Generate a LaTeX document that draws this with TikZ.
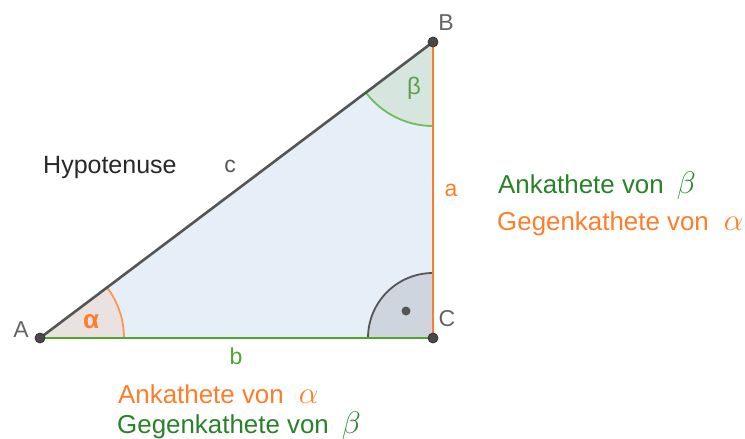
\documentclass[tikz,border=0pt]{standalone}
\usepackage{graphicx}
\usepackage{fontspec}
\setmainfont{Liberation Sans}
\definecolor{ggOrange}{RGB}{255,125,40}
\definecolor{ggTextGreen}{RGB}{40,130,40}
\definecolor{ggLineGreen}{RGB}{80,165,45}
\definecolor{ggArcGreen}{RGB}{110,190,90}
\definecolor{ggGray}{RGB}{85,85,85}
\definecolor{ggLabel}{RGB}{100,100,100}
\definecolor{triFill}{RGB}{230,238,248}
\definecolor{alphaFill}{RGB}{234,226,224}
\definecolor{betaFill}{RGB}{214,230,222}
\definecolor{rightFill}{RGB}{207,213,223}
\newcommand{\bigmath}[1]{\scalebox{1.25}{$#1$}}
\begin{document}
\begin{tikzpicture}[x=1pt,y=-1pt,
  side/.style={line width=2.6pt},
  anglearc/.style={line width=1.8pt},
  ptdot/.style={circle,fill=ggGray!85!black,draw=black!80,line width=0.8pt,minimum size=10pt,inner sep=0pt},
  ptlabel/.style={text=ggLabel,font=\fontsize{23}{27}\selectfont,inner sep=0pt},
  sidelabel/.style={font=\fontsize{23}{27}\selectfont,inner sep=0pt},
  desc/.style={font=\fontsize{25.9}{30}\selectfont,inner sep=0pt,anchor=base west},
  anglelabel/.style={inner sep=0pt}]
\useasboundingbox (0,0) rectangle (745,439);
\coordinate (A) at (40,338);
\coordinate (B) at (433,42);
\coordinate (C) at (433,338);
% triangle fill
\fill[triFill] (A) -- (B) -- (C) -- cycle;
% angle sectors
\fill[alphaFill] (A) -- ++(84,0) arc[start angle=0,end angle=-37,radius=84] -- cycle;
\fill[betaFill] (B) -- ++(0,84) arc[start angle=90,end angle=143,radius=84] -- cycle;
\fill[rightFill] (C) -- ++(-65,0) arc[start angle=180,end angle=270,radius=65] -- cycle;
\draw[anglearc,ggOrange!80] (A) ++(84,0) arc[start angle=0,end angle=-37,radius=84];
\draw[anglearc,ggArcGreen] (B) ++(0,84) arc[start angle=90,end angle=143,radius=84];
\draw[anglearc,ggGray] (C) ++(-65,0) arc[start angle=180,end angle=270,radius=65];
\node[circle,fill=ggGray,inner sep=0pt,minimum size=9pt] (rdot) at (406,311) {};
% sides
\draw[side,ggLineGreen] (A) -- (C);
\draw[side,ggOrange] (C) -- (B);
\draw[side,ggGray] (A) -- (B);
% points
\node[ptdot] (pA) at (A) {};
\node[ptdot] (pB) at (B) {};
\node[ptdot] (pC) at (C) {};
\node[ptlabel] (lA) at (21,330) {A};
\node[ptlabel] (lB) at (446,23) {B};
\node[ptlabel] (lC) at (447,319) {C};
% side labels
\node[sidelabel,text=ggGray] (lc) at (230,166) {c};
\node[sidelabel,text=ggOrange] (la) at (451,190) {a};
\node[sidelabel,text=ggLineGreen] (lb) at (236,356) {b};
% angle labels
\node[anglelabel,text=ggOrange,font=\fontsize{26}{30}\selectfont\bfseries] (lalpha) at (91,322) {α};
\node[anglelabel,text=ggArcGreen!85!black,font=\fontsize{24}{28}\selectfont] (lbeta) at (414,88) {β};
% descriptions
\node[desc,font=\fontsize{25}{30}\selectfont,text=ggLabel!40!black] (hyp) at (43,173) {Hypotenuse};
\node[desc,text=ggTextGreen] (ankb) at (498,193) {Ankathete von\hspace{13pt}\bigmath{\beta}};
\node[desc,text=ggOrange] (gega) at (497,230) {Gegenkathete von\hspace{15pt}\bigmath{\alpha}};
\node[desc,text=ggOrange] (anka) at (118,403) {Ankathete von\hspace{15pt}\bigmath{\alpha}};
\node[desc,text=ggTextGreen] (gegb) at (117,433) {Gegenkathete von\hspace{13pt}\bigmath{\beta}};
\end{tikzpicture}
\end{document}
